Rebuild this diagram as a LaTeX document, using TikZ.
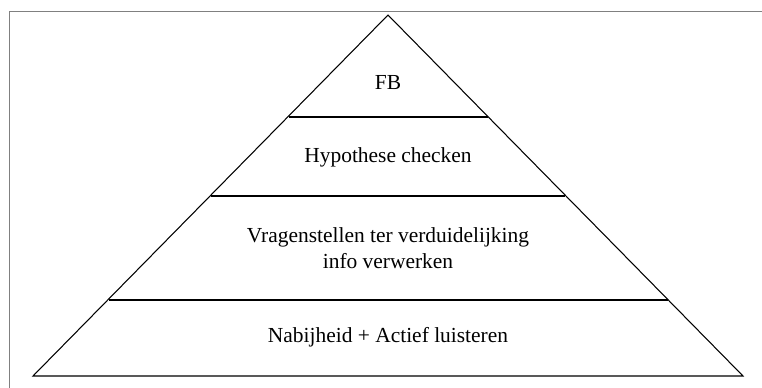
\documentclass[tikz,border=0pt]{standalone}
\usepackage{fontspec}
\setmainfont{Liberation Serif}

\begin{document}
\begin{tikzpicture}[x=0.03cm,y=-0.03cm,line width=0.9pt]
\tikzset{layer/.style={font=\fontsize{18.3}{22}\selectfont,align=center}}
\useasboundingbox (0,0) rectangle (762,387);
\draw[gray,line width=0.8pt] (9,390) -- (9,11) -- (765,11);
\coordinate (top) at (388,15);
\coordinate (bl) at (33,376);
\coordinate (br) at (743,376);
\draw (bl) -- (top) -- (br) -- cycle;
\draw (289,117) -- (488,117);
\draw (211,196) -- (565,196);
\draw (109,300) -- (668,300);
\node[layer] (fb) at (388,83) {FB};
\node[layer] (hyp) at (388,157) {Hypothese checken};
\node[layer] (vrag) at (388,248) {Vragenstellen ter verduidelijking\\info verwerken};
\node[layer] (nab) at (388,337) {Nabijheid + Actief luisteren};
\end{tikzpicture}
\end{document}
